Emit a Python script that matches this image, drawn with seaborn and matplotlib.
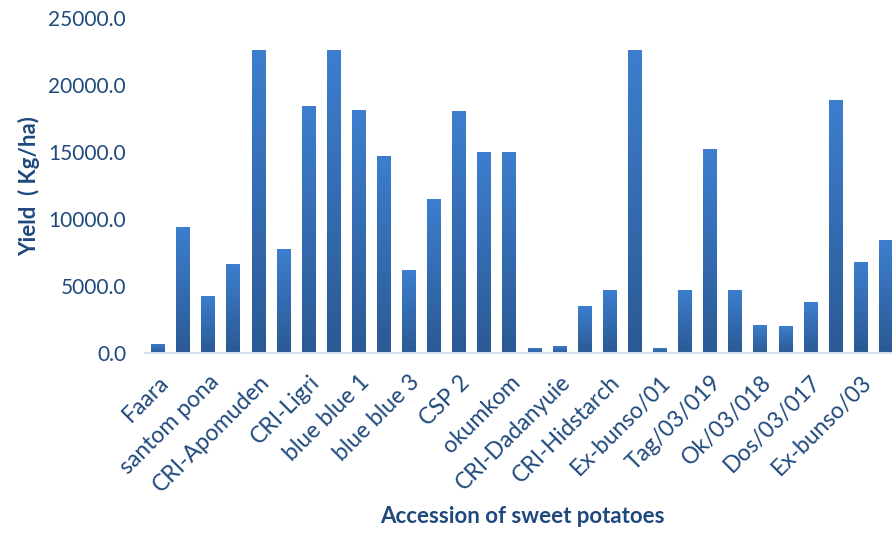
import numpy as np
import pandas as pd
import seaborn as sns
import matplotlib.pyplot as plt
from matplotlib.colors import LinearSegmentedColormap
from matplotlib.transforms import ScaledTranslation

# yields, one per bar (30 accessions)
yields = [700, 9400, 4250, 6650, 22650, 7800, 18450, 22650, 18150, 14750,
          6200, 11500, 18050, 15050, 15050, 400, 550, 3550, 4700, 22650,
          400, 4700, 15200, 4700, 2150, 2050, 3800, 18900, 6800, 8450]
# only every other accession is labelled on the axis
tick_labels = ['Faara', 'santom pona', 'CRI-Apomuden', 'CRI-Ligri', 'blue blue 1',
               'blue blue 3', 'CSP 2', 'okumkom', 'CRI-Dadanyuie', 'CRI-Hidstarch',
               'Ex-bunso/01', 'Tag/03/019', 'Ok/03/018', 'Dos/03/017', 'Ex-bunso/03']
y_ticks = [0, 5000, 10000, 15000, 20000, 25000]

df = pd.DataFrame({'acc': np.arange(len(yields)), 'yield': yields})

txt = '#1F497D'
plt.rcParams['font.family'] = ['Lato', 'DejaVu Sans']

fig = plt.figure(figsize=(8.92, 5.33), dpi=100)
ax = fig.add_axes([0.1631, 0.3368, 0.844, 0.6295])

sns.barplot(data=df, x='acc', y='yield', color='#3470BA', width=0.55,
            saturation=1, ax=ax)

# vertical gradient on each bar, light at top, dark at bottom
grad = LinearSegmentedColormap.from_list('g', ['#2B5A94', '#3D7ECF'])
for p in ax.patches:
    x0, y0 = p.get_x(), p.get_y()
    w, h = p.get_width(), p.get_height()
    im = ax.imshow(np.linspace(0, 1, 100).reshape(-1, 1), cmap=grad,
                   extent=[x0, x0 + w, y0, y0 + h], origin='lower',
                   aspect='auto', zorder=p.get_zorder())
    im.set_clip_path(p)
    p.set_facecolor('none')

ax.set_xlim(-0.5, len(yields) - 0.5)
ax.set_ylim(0, 25000)
ax.set_yticks(y_ticks)
ax.set_yticklabels([f'{v:.1f}' for v in y_ticks], fontsize=15, color=txt)
ax.set_xticks(np.arange(0, len(yields), 2))
ax.set_xticklabels(tick_labels, rotation=45, ha='right', va='top',
                   rotation_mode='anchor', fontsize=16.5, color=txt)
shift = ScaledTranslation(-0.06, 0, fig.dpi_scale_trans)
for lab in ax.get_xticklabels():
    lab.set_transform(lab.get_transform() + shift)
ax.tick_params(axis='both', length=0)
ax.tick_params(axis='y', pad=14)
ax.tick_params(axis='x', pad=13)

ax.set_ylabel('Yield  ( Kg/ha)', fontsize=16, fontweight='bold', color=txt, labelpad=6)
ax.set_xlabel('Accession of sweet potatoes', fontsize=16, fontweight='bold', color=txt)
ax.xaxis.set_label_coords(0.5, -0.455)

for s in ['top', 'right', 'left']:
    ax.spines[s].set_visible(False)
ax.spines['bottom'].set_color('#D6DFEE')
ax.spines['bottom'].set_linewidth(1.5)

fig.savefig('out.png', dpi=100)
